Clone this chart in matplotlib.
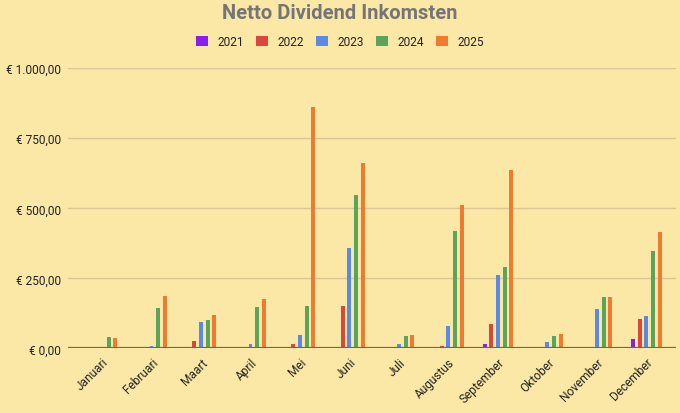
import numpy as np
import matplotlib.pyplot as plt
from matplotlib.patches import Patch
from matplotlib.ticker import FuncFormatter

# Data (EUR per month)
months = ['Januari', 'Februari', 'Maart', 'April', 'Mei', 'Juni',
          'Juli', 'Augustus', 'September', 'Oktober', 'November', 'December']
years = ['2021', '2022', '2023', '2024', '2025']

y2021 = [0, 0, 1, 1, 1, 6, 1, 0, 15, 1, 3, 33]
y2022 = [0, 0, 26, 1, 15, 150, 1, 9, 86, 5, 5, 104]
y2023 = [4, 9, 94, 15, 48, 360, 15, 80, 262, 22, 139, 117]
y2024 = [42, 143, 100, 146, 153, 546, 43, 418, 289, 46, 185, 346]
y2025 = [36, 187, 120, 178, 860, 662, 48, 510, 638, 50, 185, 417]

series = [y2021, y2022, y2023, y2024, y2025]
colors = ['#8b1df0', '#d9483b', '#5a8ae6', '#5ba55a', '#ee7b30']

bg = '#fce8a6'
plt.rcParams['font.family'] = ['Roboto', 'DejaVu Sans']

fig = plt.figure(figsize=(6.8, 4.14), dpi=100, facecolor=bg)
ax = fig.add_axes([0.1, 0.156, 0.894, 0.677], facecolor=bg)

x = np.arange(len(months))
step = 0.135
w = 0.08
for i, vals in enumerate(series):
    ax.bar(x + (i - 2) * step, vals, width=w, color=colors[i], zorder=3)

ax.set_ylim(0, 1000)
ax.set_xlim(-0.687, 11.596)
ax.set_yticks([0, 250, 500, 750, 1000])
ax.yaxis.set_major_formatter(FuncFormatter(
    lambda v, p: '€ ' + f'{v:,.2f}'.replace(',', 'X').replace('.', ',').replace('X', '.')))
ax.grid(axis='y', color='#d8c792', lw=1, zorder=0)
ax.axhline(0, color='#6f6a4c', lw=1.6, zorder=4)
for s in ax.spines.values():
    s.set_visible(False)
ax.tick_params(axis='y', length=0, pad=5, labelsize=8.6, labelcolor='#222222')
ax.tick_params(axis='x', length=0, pad=5)

ax.set_xticks(x)
ax.set_xticklabels(months, rotation=45, ha='right', rotation_mode='anchor',
                   fontsize=8.6, color='#222222')

fig.text(0.5, 0.968, 'Netto Dividend Inkomsten', ha='center', va='center',
         fontsize=14.5, fontweight='bold', color='#757575')

handles = [Patch(facecolor=c, edgecolor='none') for c in colors]
fig.legend(handles, years, loc='center', bbox_to_anchor=(0.5, 0.897), ncol=5,
           frameon=False, fontsize=8.6, handlelength=0.95, handleheight=1.0,
           handletextpad=0.8, columnspacing=1.05, labelcolor='#222222')

fig.savefig('out.png', dpi=100, facecolor=bg)
